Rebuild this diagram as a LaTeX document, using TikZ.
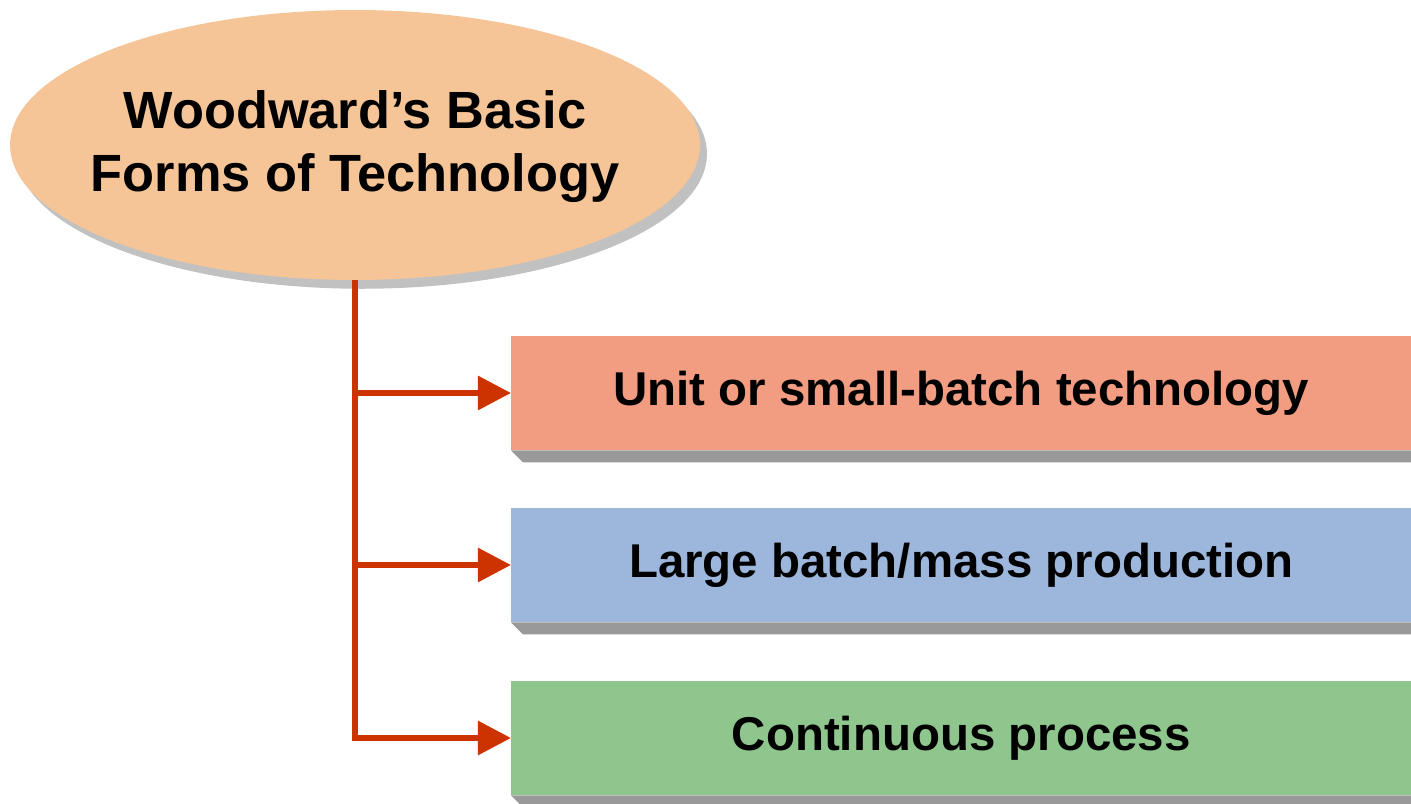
\documentclass[tikz,border=0pt]{standalone}
\usepackage{fontspec}
\setmainfont{Liberation Sans}
\usetikzlibrary{arrows.meta,shapes.geometric,shadows,backgrounds}

\definecolor{ovalfill}{HTML}{F5C597}
\definecolor{unitfill}{HTML}{F29D81}
\definecolor{massfill}{HTML}{9CB6DC}
\definecolor{contfill}{HTML}{8EC68E}
\definecolor{linkred}{HTML}{CC3300}

\begin{document}
\begin{tikzpicture}[x=0.02cm,y=-0.02cm,
  oval/.style={ellipse,fill=ovalfill,inner sep=0pt,
    minimum width=13.8cm,minimum height=5.4cm,
    drop shadow={shadow xshift=4pt,shadow yshift=-5pt,fill=black!35,opacity=.7}},
  kind/.style={rectangle,inner sep=0pt,anchor=west,
    minimum width=18cm,minimum height=2.28cm,
    font=\bfseries\fontsize{27}{32}\selectfont},
  link/.style={draw=linkred,line width=3.4pt,
    -{Triangle[length=18.8pt,width=18.8pt]}}]

\useasboundingbox (0,0) rectangle (1411,804);

\node[oval,label={[align=center,font=\bfseries\fontsize{29.8}{36}\selectfont,yshift=-1pt]center:Woodward’s Basic\\Forms of Technology}] (forms) at (355,145) {};

\node[kind,fill=unitfill] (unit) at (511,393) {\raisebox{-1.5pt}{Unit or small-batch technology}};
\node[kind,fill=massfill] (mass) at (511,565) {\raisebox{-1.5pt}{Large batch/mass production}};
\node[kind,fill=contfill] (cont) at (511,738) {\raisebox{-1.5pt}{Continuous process}};

\begin{pgfonlayer}{background}
\foreach \b in {unit,mass,cont}
  \fill[black!40] (\b.south west) -- ([shift={(12,12)}]\b.south west)
    -- ([shift={(12,12)}]\b.south east) -- (\b.south east) -- cycle;
\end{pgfonlayer}

\draw[link] (forms.south) |- (unit.west);
\draw[link] (forms.south) |- (mass.west);
\draw[link] (forms.south) |- (cont.west);
\end{tikzpicture}
\end{document}
